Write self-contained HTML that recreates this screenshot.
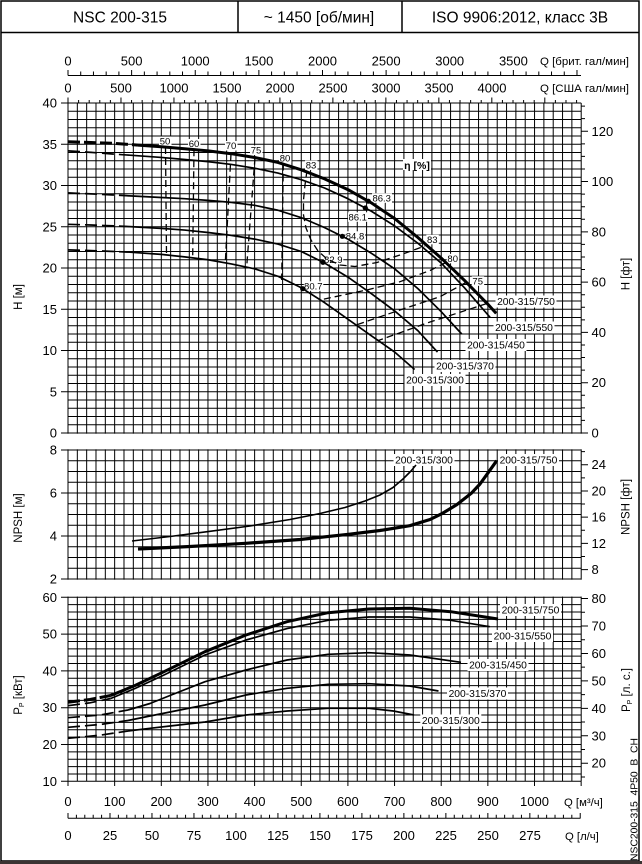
<!DOCTYPE html>
<html><head><meta charset="utf-8"><style>
html,body{margin:0;padding:0;background:#fff;}
svg{display:block;}
text{font-family:"Liberation Sans",Arial,sans-serif;fill:#000;}
</style></head><body>
<svg width="642" height="864" viewBox="0 0 642 864" xmlns="http://www.w3.org/2000/svg">
<rect x="0" y="0" width="642" height="864" fill="#fff"/>
<!-- frame & header -->
<rect x="1" y="1" width="638" height="860" fill="none" stroke="#000" stroke-width="1.5"/>
<path d="M1 32.5H639M238 1V32.5M402 1V32.5" stroke="#000" stroke-width="1.5" fill="none"/>
<rect x="0" y="861" width="642" height="3" fill="#3b3433"/>
<g font-size="15.5" text-anchor="middle">
<text x="120" y="22.5">NSC 200-315</text>
<text x="319" y="22.5">~ 1450 [об/мин]</text>
<text x="520" y="22.5">ISO 9906:2012, класс 3В</text>
</g>

<!-- grid -->
<g stroke="#000" stroke-width="1" fill="none">
<path d="M68 103V781.3M77.33 103V781.3M86.66 103V781.3M95.99 103V781.3M105.32 103V781.3M114.65 103V781.3M123.99 103V781.3M133.32 103V781.3M142.65 103V781.3M151.98 103V781.3M161.31 103V781.3M170.64 103V781.3M179.97 103V781.3M189.3 103V781.3M198.63 103V781.3M207.96 103V781.3M217.3 103V781.3M226.63 103V781.3M235.96 103V781.3M245.29 103V781.3M254.62 103V781.3M263.95 103V781.3M273.28 103V781.3M282.61 103V781.3M291.94 103V781.3M301.27 103V781.3M310.6 103V781.3M319.93 103V781.3M329.27 103V781.3M338.6 103V781.3M347.93 103V781.3M357.26 103V781.3M366.59 103V781.3M375.92 103V781.3M385.25 103V781.3M394.58 103V781.3M403.91 103V781.3M413.24 103V781.3M422.58 103V781.3M431.91 103V781.3M441.24 103V781.3M450.57 103V781.3M459.9 103V781.3M469.23 103V781.3M478.56 103V781.3M487.89 103V781.3M497.22 103V781.3M506.55 103V781.3M515.88 103V781.3M525.21 103V781.3M534.55 103V781.3M543.88 103V781.3M553.21 103V781.3M562.54 103V781.3M571.87 103V781.3M581.2 103V781.3"/>
</g>
<rect x="60" y="433.7" width="530" height="15.6" fill="#fff"/>
<rect x="60" y="579.7" width="530" height="16.9" fill="#fff"/>
<g stroke="#000" stroke-width="1" fill="none">
<path d="M68 103H581.2M68 111.25H581.2M68 119.5H581.2M68 127.75H581.2M68 136H581.2M68 144.25H581.2M68 152.5H581.2M68 160.75H581.2M68 169H581.2M68 177.25H581.2M68 185.5H581.2M68 193.75H581.2M68 202H581.2M68 210.25H581.2M68 218.5H581.2M68 226.75H581.2M68 235H581.2M68 243.25H581.2M68 251.5H581.2M68 259.75H581.2M68 268H581.2M68 276.25H581.2M68 284.5H581.2M68 292.75H581.2M68 301H581.2M68 309.25H581.2M68 317.5H581.2M68 325.75H581.2M68 334H581.2M68 342.25H581.2M68 350.5H581.2M68 358.75H581.2M68 367H581.2M68 375.25H581.2M68 383.5H581.2M68 391.75H581.2M68 400H581.2M68 408.25H581.2M68 416.5H581.2M68 424.75H581.2M68 433H581.2"/>
<path d="M68 450H581.2M68 460.75H581.2M68 471.5H581.2M68 482.25H581.2M68 493H581.2M68 503.75H581.2M68 514.5H581.2M68 525.25H581.2M68 536H581.2M68 546.75H581.2M68 557.5H581.2M68 568.25H581.2M68 579H581.2"/>
<path d="M68 597.3H581.2M68 604.66H581.2M68 612.02H581.2M68 619.38H581.2M68 626.74H581.2M68 634.1H581.2M68 641.46H581.2M68 648.82H581.2M68 656.18H581.2M68 663.54H581.2M68 670.9H581.2M68 678.26H581.2M68 685.62H581.2M68 692.98H581.2M68 700.34H581.2M68 707.7H581.2M68 715.06H581.2M68 722.42H581.2M68 729.78H581.2M68 737.14H581.2M68 744.5H581.2M68 751.86H581.2M68 759.22H581.2M68 766.58H581.2M68 773.94H581.2M68 781.3H581.2"/>
</g>

<!-- ticks -->
<g stroke="#000" stroke-width="1" fill="none">
<!-- brit axis -->
<path d="M68 75.5H581M68 75.5V70M80.72 75.5V71.5M93.45 75.5V71.5M106.17 75.5V71.5M118.9 75.5V71.5M131.62 75.5V70M144.35 75.5V71.5M157.07 75.5V71.5M169.8 75.5V71.5M182.52 75.5V71.5M195.25 75.5V70M207.97 75.5V71.5M220.69 75.5V71.5M233.42 75.5V71.5M246.14 75.5V71.5M258.87 75.5V70M271.59 75.5V71.5M284.32 75.5V71.5M297.04 75.5V71.5M309.77 75.5V71.5M322.49 75.5V70M335.21 75.5V71.5M347.94 75.5V71.5M360.66 75.5V71.5M373.39 75.5V71.5M386.11 75.5V70M398.84 75.5V71.5M411.56 75.5V71.5M424.29 75.5V71.5M437.01 75.5V71.5M449.74 75.5V70M462.46 75.5V71.5M475.18 75.5V71.5M487.91 75.5V71.5M500.63 75.5V71.5M513.36 75.5V70M526.08 75.5V71.5M538.81 75.5V71.5M551.53 75.5V71.5M564.26 75.5V71.5M576.98 75.5V70"/>
<!-- US ticks -->
<path d="M68 103V97.5M78.6 103V100M89.19 103V100M99.79 103V100M110.38 103V100M120.98 103V97.5M131.57 103V100M142.17 103V100M152.76 103V100M163.36 103V100M173.96 103V97.5M184.55 103V100M195.15 103V100M205.74 103V100M216.34 103V100M226.93 103V97.5M237.53 103V100M248.12 103V100M258.72 103V100M269.31 103V100M279.91 103V97.5M290.51 103V100M301.1 103V100M311.7 103V100M322.29 103V100M332.89 103V97.5M343.48 103V100M354.08 103V100M364.67 103V100M375.27 103V100M385.87 103V97.5M396.46 103V100M407.06 103V100M417.65 103V100M428.25 103V100M438.84 103V97.5M449.44 103V100M460.03 103V100M470.63 103V100M481.22 103V100M491.82 103V97.5M502.42 103V100M513.01 103V100M523.61 103V100M534.2 103V100M544.8 103V97.5M555.39 103V100M565.99 103V100M576.58 103V100"/>
<!-- left ticks -->
<path d="M61 103H68M61 144.25H68M61 185.5H68M61 226.75H68M61 268H68M61 309.25H68M61 350.5H68M61 391.75H68M61 433H68"/>
<path d="M61 450H68M61 493H68M61 536H68M61 579H68"/>
<path d="M61 597.3H68M61 634.1H68M61 670.9H68M61 707.7H68M61 744.5H68M61 781.3H68"/>
<!-- right ft ticks main -->
<path d="M581.2 433H588M581.2 420.43H585M581.2 407.85H585M581.2 395.28H585M581.2 382.71H588M581.2 370.14H585M581.2 357.56H585M581.2 344.99H585M581.2 332.42H588M581.2 319.84H585M581.2 307.27H585M581.2 294.7H585M581.2 282.12H588M581.2 269.55H585M581.2 256.98H585M581.2 244.41H585M581.2 231.83H588M581.2 219.26H585M581.2 206.69H585M581.2 194.11H585M581.2 181.54H588M581.2 168.97H585M581.2 156.39H585M581.2 143.82H585M581.2 131.25H588M581.2 118.68H585M581.2 106.1H585"/>
<!-- NPSH ft ticks -->
<path d="M581.2 569.57H588M581.2 556.47H585M581.2 543.36H588M581.2 530.26H585M581.2 517.15H588M581.2 504.04H585M581.2 490.94H588M581.2 477.83H585M581.2 464.72H588M581.2 451.62H585"/>
<!-- hp ticks -->
<path d="M581.2 776.94H585M581.2 763.22H588M581.2 749.5H585M581.2 735.77H588M581.2 722.05H585M581.2 708.33H588M581.2 694.61H585M581.2 680.89H588M581.2 667.17H585M581.2 653.45H588M581.2 639.73H585M581.2 626.01H588M581.2 612.29H585M581.2 598.56H588"/>
<!-- bottom m3/h ticks -->
<path d="M68 781.3V786M114.65 781.3V786M161.3 781.3V786M207.95 781.3V786M254.6 781.3V786M301.25 781.3V786M347.9 781.3V786M394.55 781.3V786M441.2 781.3V786M487.85 781.3V786M534.5 781.3V786M581.15 781.3V786"/>
<!-- l/s axis -->
<path d="M68 818.3H580.5M68 818.3V813M76.4 818.3V814.8M84.79 818.3V814.8M93.19 818.3V814.8M101.59 818.3V814.8M109.99 818.3V813M118.38 818.3V814.8M126.78 818.3V814.8M135.18 818.3V814.8M143.57 818.3V814.8M151.97 818.3V813M160.37 818.3V814.8M168.76 818.3V814.8M177.16 818.3V814.8M185.56 818.3V814.8M193.96 818.3V813M202.35 818.3V814.8M210.75 818.3V814.8M219.15 818.3V814.8M227.54 818.3V814.8M235.94 818.3V813M244.34 818.3V814.8M252.73 818.3V814.8M261.13 818.3V814.8M269.53 818.3V814.8M277.93 818.3V813M286.32 818.3V814.8M294.72 818.3V814.8M303.12 818.3V814.8M311.51 818.3V814.8M319.91 818.3V813M328.31 818.3V814.8M336.7 818.3V814.8M345.1 818.3V814.8M353.5 818.3V814.8M361.9 818.3V813M370.29 818.3V814.8M378.69 818.3V814.8M387.09 818.3V814.8M395.48 818.3V814.8M403.88 818.3V813M412.28 818.3V814.8M420.67 818.3V814.8M429.07 818.3V814.8M437.47 818.3V814.8M445.87 818.3V813M454.26 818.3V814.8M462.66 818.3V814.8M471.06 818.3V814.8M479.45 818.3V814.8M487.85 818.3V813M496.25 818.3V814.8M504.64 818.3V814.8M513.04 818.3V814.8M521.44 818.3V814.8M529.84 818.3V813M538.23 818.3V814.8M546.63 818.3V814.8M555.03 818.3V814.8M563.42 818.3V814.8M571.82 818.3V814.8M580.22 818.3V813"/>
</g>

<!-- axis numbers -->
<g font-size="13" text-anchor="middle">
<text x="68" y="65.5">0</text><text x="131.6" y="65.5">500</text><text x="195.2" y="65.5">1000</text><text x="258.9" y="65.5">1500</text><text x="322.5" y="65.5">2000</text><text x="386.1" y="65.5">2500</text><text x="449.7" y="65.5">3000</text><text x="513.4" y="65.5">3500</text>
<text x="68" y="92.5">0</text><text x="121" y="92.5">500</text><text x="174" y="92.5">1000</text><text x="227" y="92.5">1500</text><text x="280" y="92.5">2000</text><text x="333" y="92.5">2500</text><text x="386" y="92.5">3000</text><text x="439" y="92.5">3500</text><text x="492" y="92.5">4000</text>
<text x="68" y="806">0</text><text x="114.65" y="806">100</text><text x="161.3" y="806">200</text><text x="207.95" y="806">300</text><text x="254.6" y="806">400</text><text x="301.25" y="806">500</text><text x="347.9" y="806">600</text><text x="394.55" y="806">700</text><text x="441.2" y="806">800</text><text x="487.85" y="806">900</text><text x="534.5" y="806">1000</text>
<text x="68" y="840">0</text><text x="110" y="840">25</text><text x="152" y="840">50</text><text x="194" y="840">75</text><text x="236" y="840">100</text><text x="278" y="840">125</text><text x="320" y="840">150</text><text x="362" y="840">175</text><text x="404" y="840">200</text><text x="446" y="840">225</text><text x="488" y="840">250</text><text x="530" y="840">275</text>
</g>
<g font-size="11.3">
<text x="540" y="65" textLength="89" lengthAdjust="spacingAndGlyphs">Q [брит. гал/мин]</text>
<text x="540" y="92" textLength="89" lengthAdjust="spacingAndGlyphs">Q [США гал/мин]</text>
<text x="564" y="806">Q [м³/ч]</text>
<text x="565" y="840">Q [л/ч]</text>
</g>
<g font-size="13" text-anchor="end">
<text x="57" y="107.5">40</text><text x="57" y="148.75">35</text><text x="57" y="190">30</text><text x="57" y="231.25">25</text><text x="57" y="272.5">20</text><text x="57" y="313.75">15</text><text x="57" y="355">10</text><text x="57" y="396.25">5</text><text x="57" y="437.5">0</text>
<text x="57" y="454.5">8</text><text x="57" y="497.5">6</text><text x="57" y="540.5">4</text><text x="57" y="583.5">2</text>
<text x="57" y="601.8">60</text><text x="57" y="638.6">50</text><text x="57" y="675.4">40</text><text x="57" y="712.2">30</text><text x="57" y="749">20</text><text x="57" y="785.8">10</text>
</g>
<g font-size="13">
<text x="591.5" y="135.75">120</text><text x="591.5" y="186">100</text><text x="591.5" y="236.3">80</text><text x="591.5" y="286.6">60</text><text x="591.5" y="336.9">40</text><text x="591.5" y="387.2">20</text><text x="591.5" y="437.5">0</text>
<text x="591.5" y="469.2">24</text><text x="591.5" y="495.4">20</text><text x="591.5" y="521.6">16</text><text x="591.5" y="547.9">12</text><text x="591.5" y="574.1">8</text>
<text x="591.5" y="603.1">80</text><text x="591.5" y="630.5">70</text><text x="591.5" y="658">60</text><text x="591.5" y="685.4">50</text><text x="591.5" y="712.8">40</text><text x="591.5" y="740.3">30</text><text x="591.5" y="767.7">20</text>
</g>
<!-- axis titles -->
<g font-size="11.5" text-anchor="middle">
<text transform="translate(22,297) rotate(-90)">H [м]</text>
<text transform="translate(22,518) rotate(-90)">NPSH [м]</text>
<text transform="translate(22,695) rotate(-90)">P<tspan font-size="7" dy="2">P</tspan><tspan dy="-2"> [кВт]</tspan></text>
<text transform="translate(629.5,274) rotate(-90)">H [фт]</text>
<text transform="translate(629.5,507) rotate(-90)">NPSH [фт]</text>
<text transform="translate(630,690) rotate(-90)">P<tspan font-size="7" dy="2">P</tspan><tspan dy="-2"> [л. с.]</tspan></text>
</g>
<text transform="translate(637.5,861) rotate(-90)" font-size="10.4" textLength="123" lengthAdjust="spacingAndGlyphs">NSC200-315_4P50_B_CH</text>

<!-- label backgrounds -->
<g fill="#fff">
<rect x="159" y="136.5" width="12.5" height="9.5"/><rect x="188" y="139" width="12.5" height="9.5"/><rect x="225" y="141" width="12.5" height="9.5"/><rect x="250" y="145.5" width="12.5" height="9.5"/><rect x="279" y="153.5" width="12.5" height="9.5"/><rect x="305" y="160.5" width="12.5" height="9.5"/>
<rect x="372" y="193.3" width="20" height="9.5"/><rect x="348" y="212.3" width="20" height="9.5"/><rect x="345.5" y="231.3" width="19.5" height="9.5"/><rect x="323.8" y="254.8" width="19.5" height="9.5"/><rect x="303.8" y="281.3" width="19.5" height="9.5"/>
<rect x="426.3" y="234.8" width="12.5" height="9.5"/><rect x="446.7" y="253.8" width="12.5" height="9.5"/><rect x="471.7" y="276.3" width="12.5" height="9.5"/>
<rect x="403" y="159" width="28" height="11"/>
<rect x="495.5" y="295.5" width="61" height="12"/><rect x="493.5" y="321.5" width="61" height="12"/><rect x="465.5" y="339" width="61" height="12"/><rect x="434.5" y="360" width="61" height="12"/><rect x="404.5" y="374" width="61" height="12"/>
<rect x="393.5" y="454" width="61" height="12"/><rect x="498" y="454" width="61" height="12"/>
<rect x="500" y="604" width="61" height="12"/><rect x="492" y="630" width="61" height="12"/><rect x="467.5" y="659" width="61" height="12"/><rect x="447" y="687.5" width="61" height="12"/><rect x="420.3" y="714.5" width="61" height="12"/>
</g>

<!-- H curves -->
<g fill="none" stroke="#000" stroke-linejoin="round" stroke-linecap="butt">
<path d="M68 141.8L91 142.5L114.7 143.4L138 145.1" stroke-width="3" stroke-dasharray="12 4"/>
<path d="M138 145.1L161.3 146.7L184.6 148.8L208 150.9L231.3 153.7L254.6 157.5L277.9 162.4L301.3 169.8L324.6 178.9L347.9 189.6L371.2 202.8L394.6 218.5L417.9 237.5L441.2 258.1L464.5 280.4L487.9 304.3L496.2 313.4" stroke-width="3"/>
<g stroke-width="1.7">
<path d="M68 150.85L91 152.4L114.7 154.15L130 155.2" stroke-dasharray="12 5"/>
<path d="M130 155.2L161.3 157.45L184.6 159.5L208 161.6L231.3 164.45L254.6 168.2L277.9 173.1L301.3 179.7L324.6 188L347.9 198.7L371.2 211.1L394.6 225.9L417.9 243.25L441.2 263.05L464.5 287.8L490.2 317.5"/>
<path d="M68 192.9L91 193.9L114.7 195L130 195.9" stroke-dasharray="12 5"/>
<path d="M130 195.9L161.3 197.5L184.6 198.7L208 200.35L231.3 202.4L254.6 205.3L277.9 210.25L301.3 217.65L324.6 227.6L347.9 239.1L371.2 253.15L394.6 268.8L417.9 288.6L441.2 311.7L461.7 334"/>
<path d="M68 224.3L91 225L114.7 225.9L130 226.6" stroke-dasharray="12 5"/>
<path d="M130 226.6L161.3 228.4L184.6 230.05L208 232.5L231.3 235.4L254.6 239.1L277.9 244.1L301.3 251.5L324.6 263.05L347.9 277.1L371.2 293.6L394.6 310.9L417.9 330.7L437.5 352.1"/>
<path d="M68 249.85L91 250.6L114.7 251.5L130 252.2" stroke-dasharray="12 5"/>
<path d="M130 252.2L161.3 254.4L184.6 256.9L208 259.75L231.3 263.9L254.6 268.8L277.9 276.25L301.3 287.8L324.6 302.65L347.9 319.15L371.2 335.65L394.6 352L414.6 369.5"/>
</g>
<!-- iso efficiency -->
<g stroke-width="1.3" stroke-dasharray="7 4">
<path d="M165.5 147L166.5 255"/>
<path d="M194 149.3L192.7 257"/>
<path d="M231 153.8L225.3 262.5"/>
<path d="M255 157.6L246.7 266.5"/>
<path d="M283.3 163.5L281.7 280"/>
<path d="M307 170.5L305 185L303.5 200L303.5 215L306 228L311 240L318 251L327 259L340 265L355 266.5L377 262.5L400 255L425 246"/>
<path d="M446 262.5L430 270.5L400 281.7L366.7 290L322 299.5"/>
<path d="M466 282.5L440 296.7L400 310L356 325"/>
<path d="M487 303.5L430 322L378.3 340.5"/>
</g>
</g>
<g fill="#000">
<circle cx="368.3" cy="201.2" r="2.6"/><circle cx="365.3" cy="208" r="2.6"/><circle cx="342.3" cy="236.3" r="2.6"/><circle cx="323" cy="262.3" r="2.6"/><circle cx="302.7" cy="288.7" r="2.6"/>
</g>

<!-- NPSH curves -->
<g fill="none" stroke="#000" stroke-linejoin="round">
<path d="M132 541L170 536.5L210 531.3L250 526L290 519.5L320 513.5L345 507.5L365 501L380 495L393 487.5L403 479L411 471L416 465" stroke-width="1.6"/>
<path d="M138 549L190 546.5L245.9 543.3L300 539.5L348.4 534.3L380 530.5L409.8 525.7L430 519.5L442.6 513.3L457 504.5L471.3 493.3L480 484L487.7 473.3L496.7 460.7" stroke-width="3.2"/>
</g>

<!-- Power curves -->
<g fill="none" stroke="#000" stroke-linejoin="round">
<path d="M68 702.3L90 699.5L110.7 695.5" stroke-width="3" stroke-dasharray="12 4"/>
<path d="M110.7 695.5L135 685.5L164 671.7L205 651.7L246 635L287 621.7L328 612.7L368.9 609L409.8 608.3L450.8 611.7L498 619" stroke-width="3"/>
<g stroke-width="1.7">
<path d="M68 705.7L90 702.8L110.7 698.5" stroke-dasharray="12 5"/>
<path d="M110.7 698.5L135 688.5L164 675L205 655L246 640L287 628.6L328 620.3L368.9 617L409.8 617L450.8 620.3L489.8 626.7"/>
<path d="M68 717.7L100 715L128 710" stroke-dasharray="12 5"/>
<path d="M128 710L150 703.5L170 695.5L205 681.7L246 670L287 660L328 654.3L368.9 652.7L409.8 655L461 662.3"/>
<path d="M68 727.3L100 724.5L128 720.5" stroke-dasharray="12 5"/>
<path d="M128 720.5L150 716L170 712L205 705L246 695L287 688.3L328 684.3L368.9 683.7L409.8 686L438.5 691"/>
<path d="M68 738.3L100 735.2L128 731" stroke-dasharray="12 5"/>
<path d="M128 731L150 728.3L170 726L205 722L246 715L287 711L328 708.3L368.9 708.3L393.4 711L414 715"/>
</g>
</g>

<!-- labels -->
<g font-size="9.5" text-anchor="middle">
<text x="165" y="144.4">50</text><text x="194" y="146.9">60</text><text x="231" y="148.9">70</text><text x="256" y="153.4">75</text><text x="285" y="161.4">80</text><text x="311" y="168.4">83</text>
<text x="381.7" y="201.4">86.3</text><text x="357.7" y="220.4">86.1</text><text x="355" y="239.4">84.8</text><text x="333.3" y="262.9">82.9</text><text x="313.3" y="289.4">80.7</text>
<text x="432.3" y="242.9">83</text><text x="452.7" y="261.9">80</text><text x="477.7" y="284.4">75</text>
</g>
<text x="417" y="168.8" font-size="10.5" font-weight="bold" text-anchor="middle">η [%]</text>
<g font-size="10.3" text-anchor="middle">
<text x="526" y="305.2">200-315/750</text><text x="524" y="331.2">200-315/550</text><text x="496" y="348.7">200-315/450</text><text x="465" y="369.7">200-315/370</text><text x="435" y="383.7">200-315/300</text>
<text x="424" y="463.7">200-315/300</text><text x="528.5" y="463.7">200-315/750</text>
<text x="530.5" y="613.7">200-315/750</text><text x="522.5" y="639.7">200-315/550</text><text x="498" y="668.7">200-315/450</text><text x="477.5" y="697.2">200-315/370</text><text x="450.8" y="724.2">200-315/300</text>
</g>
</svg>
</body></html>
